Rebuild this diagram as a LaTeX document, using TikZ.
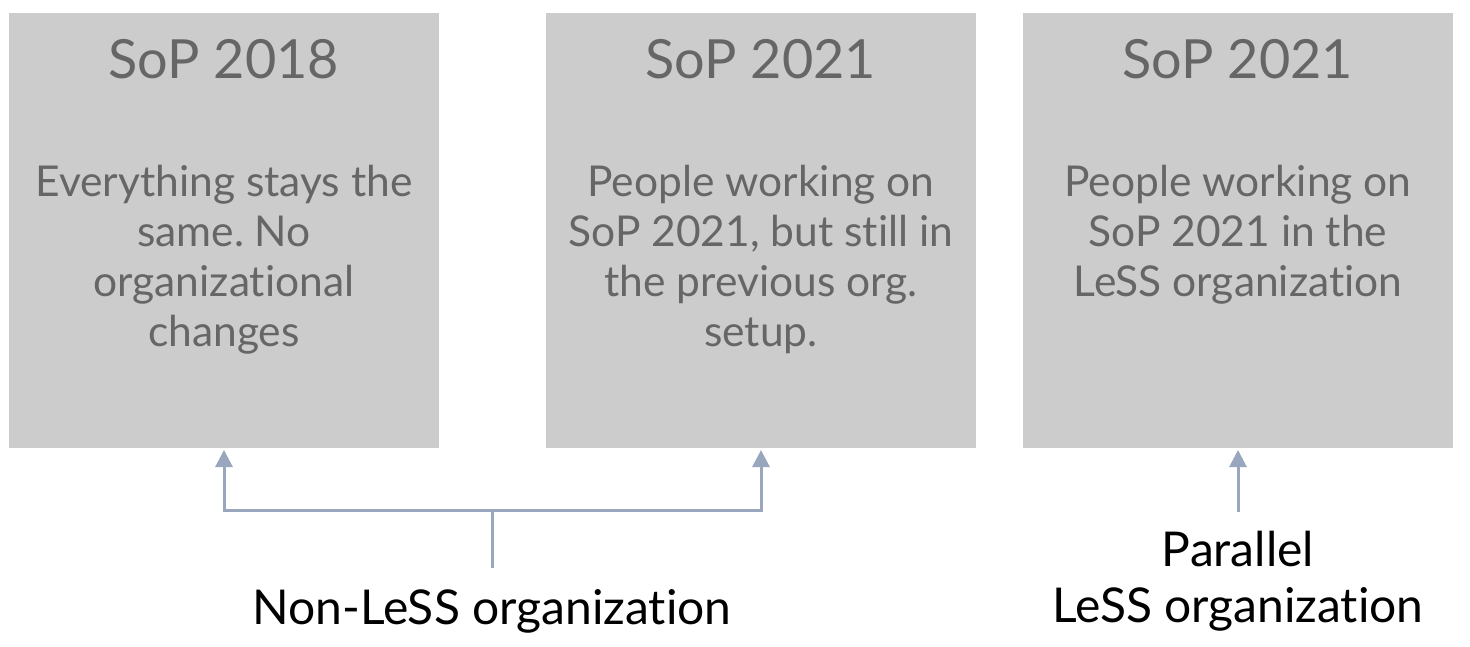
\documentclass[tikz,border=0pt]{standalone}
\usepackage{fontspec}
\setmainfont[Ligatures=NoCommon]{Lato}
\usetikzlibrary{arrows.meta}
\definecolor{boxfill}{HTML}{CCCCCC}
\definecolor{boxtext}{HTML}{666666}
\definecolor{arrowc}{HTML}{98A6BE}
\frenchspacing
\tikzset{
  panel/.style={fill=boxfill, draw=none, minimum width=430pt, minimum height=435pt, anchor=north west, inner sep=0pt},
  paneltitle/.style={text=boxtext, font=\fontsize{54}{64}\selectfont, anchor=base, inner sep=0pt},
  panelbody/.style={text=boxtext, font=\fontsize{42.5}{50}\selectfont, align=center, anchor=base, inner sep=0pt},
  orglabel/.style={text=black, font=\fontsize{48}{56}\selectfont, align=center, anchor=base, inner sep=0pt},
  conn/.style={draw=arrowc, line width=3pt},
  arr/.style={conn, -{Triangle[width=17pt,length=17pt]}}
}
\begin{document}
\begin{tikzpicture}[x=1pt,y=-1pt]
\useasboundingbox (0,0) rectangle (1470,646);
\node[panel] (b1) at (9,13) {};
\node[panel] (b2) at (546,13) {};
\node[panel] (b3) at (1023,13) {};
\node[paneltitle] (t1) at (224,78) {SoP 2018};
\node[paneltitle] (t2) at (761,78) {SoP 2021};
\node[paneltitle] (t3) at (1238,78) {SoP 2021};
\node[panelbody] (d1) at (224,346) {Everything stays the\\same. No\\organizational\\changes};
\node[panelbody] (d2) at (761,346) {People working on\\SoP 2021, but still in\\the previous org.\\setup.};
\node[panelbody] (d3) at (1238,296) {People working on\\SoP 2021 in the\\LeSS organization};
\node[orglabel] (l1) at (492,624) {Non-LeSS organization};
\node[orglabel] (l2) at (1238,622) {Parallel\\LeSS organization};
\coordinate (j) at (492,510);
\coordinate (s1) at (492,568);
\coordinate (s2) at (1238,512);
\draw[conn] (s1) -- (j);
\draw[arr] (j) -- (224,510) -- (224,450);
\draw[arr] (j) -- (761,510) -- (761,450);
\draw[arr] (s2) -- (1238,450);
\end{tikzpicture}
\end{document}
